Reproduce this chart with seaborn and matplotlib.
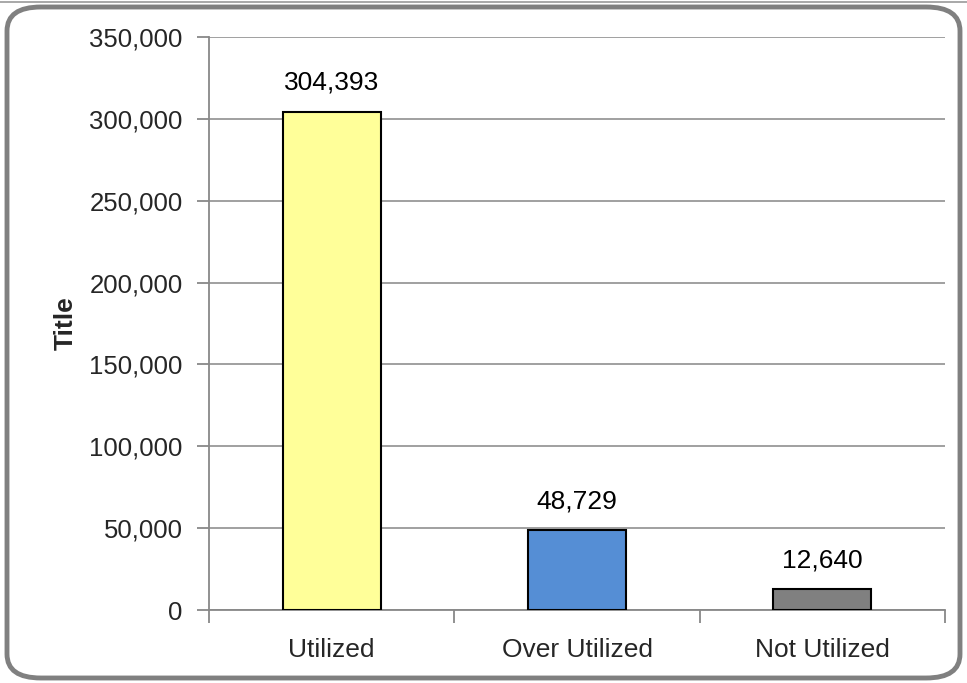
import matplotlib
matplotlib.use("Agg")
import matplotlib.pyplot as plt
import seaborn as sns
import pandas as pd
from matplotlib.patches import FancyBboxPatch
from matplotlib.ticker import FuncFormatter, MultipleLocator

categories = ["Utilized", "Over Utilized", "Not Utilized"]
values = [304393, 48729, 12640]
bar_colors = ["#FFFF99", "#558ED5", "#808080"]

sns.set_theme(style="white")
plt.rcParams["font.family"] = ["Liberation Sans Narrow", "Liberation Sans", "DejaVu Sans"]

df = pd.DataFrame({"category": categories, "value": values})

fig = plt.figure(figsize=(9.67, 6.83), dpi=100)
ax = fig.add_axes([209 / 967, 1 - 610 / 683, 736 / 967, 573 / 683])

sns.barplot(data=df, x="category", y="value", hue="category", palette=bar_colors,
            order=categories, hue_order=categories, width=0.4, legend=False,
            saturation=1, edgecolor="black", linewidth=1.5, ax=ax, zorder=3)

ax.set_ylim(0, 350000)
ax.set_xlim(-0.5, len(categories) - 0.5)
ax.yaxis.set_major_locator(MultipleLocator(50000))
ax.yaxis.set_major_formatter(FuncFormatter(lambda v, p: f"{int(v):,}"))
ax.grid(axis="y", color="#999999", linewidth=1.3, zorder=0)
ax.set_axisbelow(True)

for side in ["top", "right"]:
    ax.spines[side].set_visible(False)
for side in ["left", "bottom"]:
    ax.spines[side].set_color("#888888")
    ax.spines[side].set_linewidth(1.3)

ax.tick_params(axis="y", which="major", direction="out", length=9, width=1.3,
               color="#888888", labelsize=18.5, pad=10, left=True)
ax.tick_params(axis="x", which="major", length=0, labelsize=19, pad=20)
ax.set_xticks(range(len(categories)))
ax.set_xticklabels(categories)
ax.set_xticks([i - 0.5 for i in range(len(categories) + 1)], minor=True)
ax.tick_params(axis="x", which="minor", direction="out", length=9, width=1.3,
               color="#888888", bottom=True)

ax.set_xlabel("")
ax.set_ylabel("Title", fontsize=19, fontweight="bold", labelpad=8)

for i, v in enumerate(values):
    ax.annotate(f"{v:,}", (i, v), xytext=(0, 12), textcoords="offset points",
                ha="center", va="bottom", fontsize=19, color="black")

# rounded chart frame
frame = FancyBboxPatch((7 / 967, 5 / 683), 953 / 967, 671 / 683,
                       boxstyle="round,pad=0,rounding_size=0.035",
                       transform=fig.transFigure, fill=False,
                       edgecolor="#808080", linewidth=3.5, zorder=0)
fig.patches.append(frame)
fig.add_artist(plt.Line2D([0, 1], [1 - 2 / 683, 1 - 2 / 683],
                          transform=fig.transFigure, color="#999999", linewidth=1.2))

fig.savefig("out.png", dpi=100)
